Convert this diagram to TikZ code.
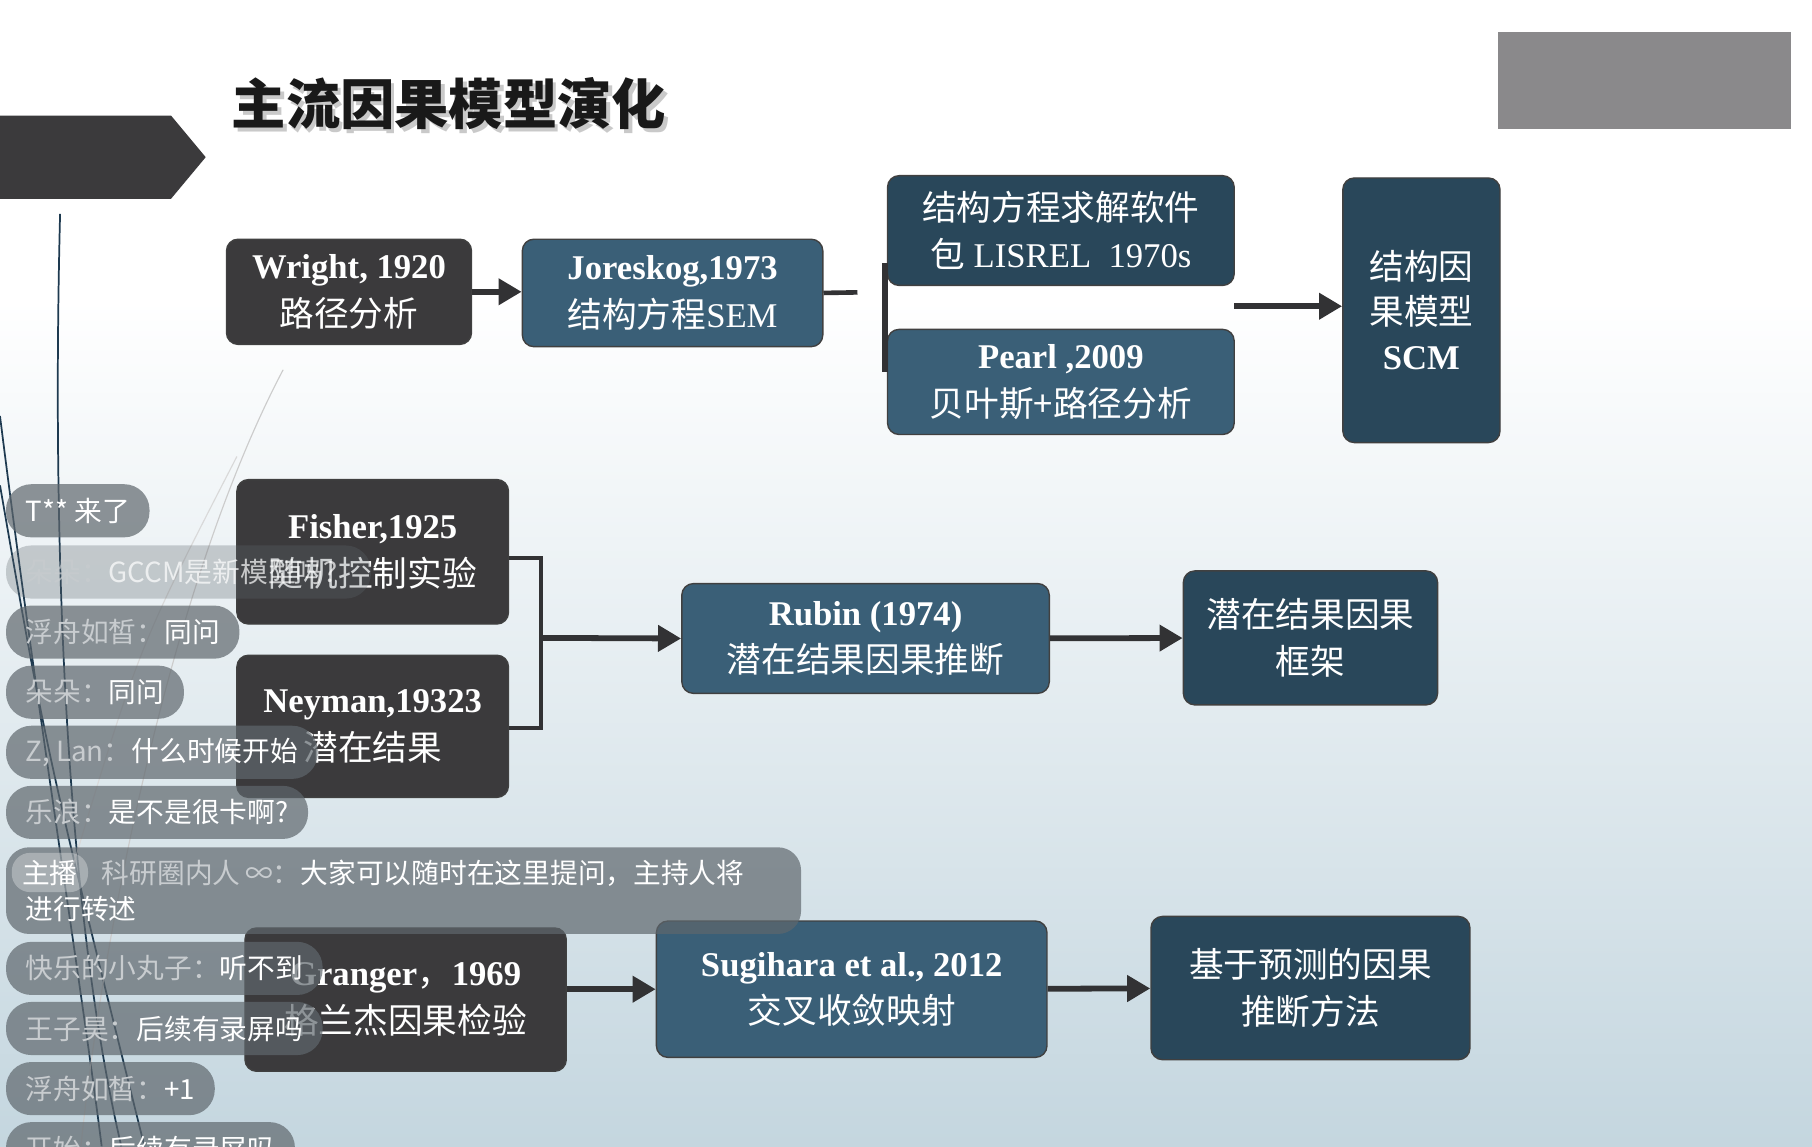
\documentclass[tikz,border=0pt]{standalone}
\usepackage{fontspec}
\setmainfont{Liberation Serif}
\newfontfamily\zh{Noto Sans CJK SC}
\usetikzlibrary{arrows.meta,positioning}

\definecolor{boxgray}{HTML}{3B3A3C}
\definecolor{boxblue}{HTML}{3A5F77}
\definecolor{boxteal}{HTML}{29475A}
\definecolor{arrowgray}{HTML}{323234}
\definecolor{bgblue}{HTML}{C4D6DF}
\definecolor{chatgray}{HTML}{5F676D}
\definecolor{chatname}{HTML}{C8CCCF}
\definecolor{navyline}{HTML}{1E3A50}
\definecolor{logogray}{HTML}{8A898B}

\newcommand\nick[1]{{\color{chatname}#1}}

\tikzset{
	box/.style={draw=black!75, line width=1.2pt, rounded corners=10pt, text=white, align=center, inner sep=0pt, font=\fontsize{30}{41}\selectfont},
	graybox/.style={box, fill=boxgray},
	bluebox/.style={box, fill=boxblue},
	tealbox/.style={box, fill=boxteal},
	link/.style={draw=arrowgray, line width=5pt},
	flow/.style={link, -{Triangle[length=20pt,width=22pt]}},
	chat/.style={fill=chatgray, fill opacity=0.7, text opacity=1, text=white, rounded corners=22pt, minimum height=46pt, inner xsep=17pt, inner ysep=0pt, anchor=west, font=\zh\fontsize{24}{31}\selectfont},
}

\begin{document}
\begin{tikzpicture}[x=1pt, y=-1pt]
	\useasboundingbox (0,0) rectangle (1568,992);
	\fill[white] (0,0) rectangle (1568,260);
	\shade[top color=white, bottom color=bgblue] (0,259) rectangle (1568,992);

	\fill[boxgray] (0,100) -- (148,100) -- (178,136) -- (148,172) -- (0,172) -- cycle;
	\fill[logogray] (1296,28) rectangle (1550,112);
	\node[anchor=west, text=black!35, opacity=0.6, font=\zh\bfseries\fontsize{47}{50}\selectfont] (titleshadow) at (200,93) {主流因果模型演化};
	\node[anchor=west, text=black!90, font=\zh\bfseries\fontsize{47}{50}\selectfont] (title) at (197,90) {主流因果模型演化};

	\draw[navyline, line width=1.5pt] (52,185) .. controls (44,500) and (60,800) .. (105,992);
	\draw[navyline, line width=1.5pt] (0,360) .. controls (30,600) and (70,850) .. (88,992);
	\draw[navyline, line width=1.5pt] (0,420) .. controls (40,650) .. (125,992);
	\draw[black!20, line width=1pt] (245,320) .. controls (150,500) and (90,800) .. (70,992);
	\draw[black!15, line width=1pt] (205,395) .. controls (120,560) .. (60,760);

	\node[graybox, minimum width=212pt, minimum height=91pt] (wright) at (302,252.5) {\bfseries Wright, 1920\\{\zh 路径分析}};
	\node[bluebox, minimum width=260pt, minimum height=93pt] (joreskog) at (582,253.5) {\bfseries Joreskog,1973\\{\zh\mdseries 结构方程}SEM};
	\node[tealbox, minimum width=300pt, minimum height=95pt] (lisrel) at (918,199.5) {{\zh 结构方程求解软件}\\{\zh 包} LISREL\ \ 1970s};
	\node[bluebox, minimum width=300pt, minimum height=91pt] (pearl) at (918,330.5) {\bfseries Pearl ,2009\\{\zh\mdseries 贝叶斯+路径分析}};
	\node[tealbox, minimum width=136pt, minimum height=229pt, font=\fontsize{30}{39}\selectfont] (scm) at (1230,268.5) {{\zh 结构因}\\{\zh 果模型}\\\textbf{SCM}};

	\node[graybox, minimum width=235pt, minimum height=125pt] (fisher) at (322.5,477.5) {\bfseries Fisher,1925\\{\zh\mdseries 随机控制实验}};
	\node[graybox, minimum width=235pt, minimum height=123pt] (neyman) at (322.5,628.5) {\bfseries Neyman,19323\\{\zh\mdseries 潜在结果}};
	\node[bluebox, minimum width=318pt, minimum height=95pt] (rubin) at (749,552.5) {\bfseries Rubin (1974)\\{\zh\mdseries 潜在结果因果推断}};
	\node[tealbox, minimum width=220pt, minimum height=116pt] (potential) at (1134,552) {{\zh 潜在结果因果}\\{\zh 框架}};

	\node[graybox, minimum width=278pt, minimum height=124pt] (granger) at (351,865) {\bfseries Granger{\zh\mdseries ，}1969\\{\zh\mdseries 格兰杰因果检验}};
	\node[bluebox, minimum width=338pt, minimum height=118pt] (sugihara) at (737,856) {\bfseries Sugihara et al., 2012\\{\zh\mdseries 交叉收敛映射}};
	\node[tealbox, minimum width=276pt, minimum height=124pt] (predict) at (1134,855) {{\zh 基于预测的因果}\\{\zh 推断方法}};

	\draw[flow] (wright.east) -- (wright.east -| joreskog.west);
	\coordinate (topsplit) at (742,253);
	\draw[link, line width=4pt] (joreskog.east) -- (topsplit);
	\coordinate (bartop) at (766,228);
	\coordinate (barbot) at (766,322);
	\draw[link] (bartop) -- (barbot);
	\coordinate (scmin) at (1068,265);
	\draw[flow] (scmin) -- (scmin -| scm.west);

	\coordinate (midsplit) at (468,552);
	\draw[link, line width=4pt] ([yshift=-5.5pt]fisher.east) -| (midsplit) |- ([yshift=-1.5pt]neyman.east);
	\draw[flow] (midsplit) -- (rubin.west);
	\draw[flow] (rubin) -- (potential);

	\draw[flow] (granger.east |- sugihara.west) -- (sugihara.west);
	\draw[flow] (sugihara) -- (predict);

	\node[chat] (c1) at (5,442) {T** 来了};
	\node[chat, fill opacity=0.3, text opacity=0.7] (c2) at (5,495) {\nick{朵朵：}GCCM是新模型吗？};
	\node[chat] (c3) at (5,547) {\nick{浮舟如皙：}同问};
	\node[chat] (c4) at (5,599) {\nick{朵朵：}同问};
	\node[chat] (c5) at (5,651) {\nick{Z, Lan：}什么时候开始};
	\node[chat] (c6) at (5,703) {\nick{乐浪：}是不是很卡啊?};
	\node[chat, anchor=north west, minimum height=75pt, text width=654pt, align=left, rounded corners=20pt] (c7) at (5,733) {\hspace*{66pt}\nick{科研圈内人\,∞：}大家可以随时在这里提问，主持人将\\进行转述};
	\node[chat, fill=white, fill opacity=0.3, minimum height=34pt, inner xsep=9pt, rounded corners=16pt] (host) at (10,755) {主播};
	\node[chat] (c8) at (5,838) {\nick{快乐的小丸子：}听不到};
	\node[chat] (c9) at (5,890) {\nick{王子昊：}后续有录屏吗};
	\node[chat] (c10) at (5,942) {\nick{浮舟如皙：}+1};
	\node[chat] (c11) at (5,994) {\nick{开始：}后续有录屏吗};
\end{tikzpicture}
\end{document}
